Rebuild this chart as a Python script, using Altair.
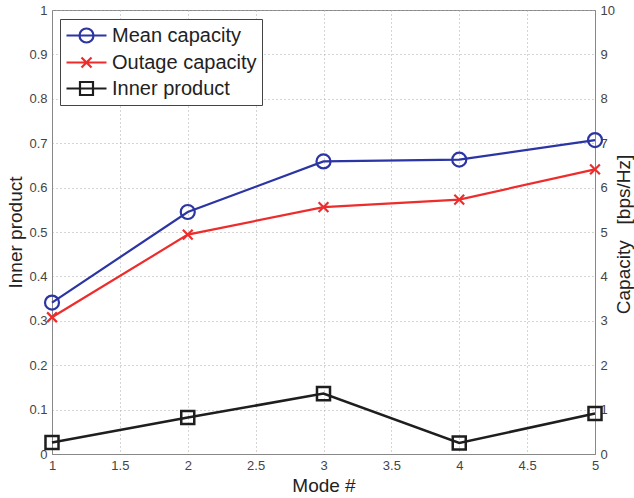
import altair as alt
import pandas as pd

# ---- data ----
modes = [1, 2, 3, 4, 5]
mean_capacity = [3.41, 5.45, 6.59, 6.63, 7.07]      # bps/Hz (right axis)
outage_capacity = [3.08, 4.94, 5.56, 5.73, 6.41]    # bps/Hz (right axis)
inner_product = [0.026, 0.082, 0.136, 0.025, 0.091] # left axis

series_names = ["Mean capacity", "Outage capacity", "Inner product"]
series_colors = ["#2b35a3", "#ee2c2c", "#1e1e1e"]

x_ticks = [1, 1.5, 2, 2.5, 3, 3.5, 4, 4.5, 5]
left_ticks = [0, 0.1, 0.2, 0.3, 0.4, 0.5, 0.6, 0.7, 0.8, 0.9, 1]
right_ticks = [0, 1, 2, 3, 4, 5, 6, 7, 8, 9, 10]

# marker shapes (unit square paths)
marker_paths = [
    "M1,0A1,1 0 1,1 -1,0A1,1 0 1,1 1,0Z",
    "M-0.7,-0.7L0.7,0.7M-0.7,0.7L0.7,-0.7",
    "M-0.93,-0.93H0.93V0.93H-0.93Z",
]
# legend symbols: line segment with marker (drawn to the right of the symbol slot)
legend_paths = [
    "M-1,0H3M1.7,0A0.7,0.7 0 1,1 0.3,0A0.7,0.7 0 1,1 1.7,0",
    "M-1,0H3M0.5,-0.5L1.5,0.5M0.5,0.5L1.5,-0.5",
    "M-1,0H3M0.35,-0.65H1.65V0.65H0.35Z",
]

cap_df = pd.DataFrame({
    "mode": modes + modes,
    "series": [series_names[0]] * 5 + [series_names[1]] * 5,
    "value": mean_capacity + outage_capacity,
})
inner_df = pd.DataFrame({
    "mode": modes,
    "series": [series_names[2]] * 5,
    "value": inner_product,
})
all_df = pd.concat([cap_df, inner_df], ignore_index=True)

FONT = "Liberation Sans"

x_enc = alt.X("mode:Q", scale=alt.Scale(domain=[1, 5], nice=False),
              axis=alt.Axis(values=x_ticks, format="~g", title="Mode #",
                            grid=True, gridDash=[1, 3], gridColor="#aaaaaa",
                            ticks=False, labelPadding=5, titlePadding=4,
                            labelFlush=False))

color_plot = alt.Color("series:N", scale=alt.Scale(domain=series_names, range=series_colors), legend=None)
shape_plot = alt.Shape("series:N", scale=alt.Scale(domain=series_names, range=marker_paths), legend=None)

# ---- inner product (left axis) ----
left_y = alt.Y("value:Q", scale=alt.Scale(domain=[0, 1], nice=False),
               axis=alt.Axis(orient="left", values=left_ticks, format="~g",
                             title="Inner product", grid=True, gridDash=[1, 3],
                             gridColor="#aaaaaa", ticks=False, labelPadding=5,
                             titlePadding=3, labelFlush=False))
inner_line = alt.Chart(inner_df).mark_line(strokeWidth=2.5).encode(
    x=x_enc, y=left_y, color=color_plot)
inner_pts = alt.Chart(inner_df).mark_point(filled=False, size=196, strokeWidth=2.5, opacity=1).encode(
    x=x_enc, y=left_y, color=color_plot, shape=shape_plot)
inner_group = alt.layer(inner_line, inner_pts)

# ---- capacities (right axis) ----
right_y = alt.Y("value:Q", scale=alt.Scale(domain=[0, 10], nice=False),
                axis=alt.Axis(orient="right", values=right_ticks, format="d",
                              title="Capacity \u00a0\u00a0[bps/Hz]", titleAngle=270,
                              titleX=28, titleY=224, titleAlign="center",
                              titleBaseline="middle",
                              grid=False, ticks=False, labelPadding=5,
                              labelFlush=False))
cap_line = alt.Chart(cap_df).mark_line(strokeWidth=2.2).encode(
    x=x_enc, y=right_y, color=color_plot, detail="series:N")
cap_pts = alt.Chart(cap_df).mark_point(filled=False, size=196, strokeWidth=2.2, opacity=1).encode(
    x=x_enc, y=right_y, color=color_plot, shape=shape_plot)
cap_group = alt.layer(cap_line, cap_pts)

# ---- invisible layer that only carries the legend ----
legend_layer = alt.Chart(all_df).mark_point(filled=False, opacity=0, size=400, strokeWidth=2.2).encode(
    x=x_enc,
    y=alt.Y("value:Q", scale=alt.Scale(domain=[0, 10], nice=False), axis=None),
    color=alt.Color("series:N", scale=alt.Scale(domain=series_names, range=series_colors),
                    legend=alt.Legend(title=None, orient="none", legendX=8, legendY=9,
                                      symbolOpacity=1, symbolStrokeWidth=2.2,
                                      symbolSize=400,
                                      symbolFillColor="transparent",
                                      labelFontSize=20, labelFont=FONT, labelColor="#222222",
                                      labelOffset=24, rowPadding=4, padding=5,
                                      strokeColor="#444444", fillColor="white",
                                      cornerRadius=0)),
    shape=alt.Shape("series:N", scale=alt.Scale(domain=series_names, range=legend_paths)),
)

chart = alt.layer(inner_group, cap_group, legend_layer).resolve_scale(
    y="independent", color="independent", shape="independent"
).properties(
    width=543, height=444,
    autosize=alt.AutoSizeParams(type="none"),
    padding={"left": 52, "top": 10, "right": 39, "bottom": 44},
    background="white",
).configure_view(
    stroke="#888888", strokeWidth=1
).configure_axis(
    domainColor="#888888", labelFont=FONT, titleFont=FONT, labelFontSize=13,
    labelColor="#444444", titleFontSize=19, titleColor="#222222", titleFontWeight="normal",
)

chart.save("out.html", embed_options={"renderer": "svg", "actions": False})
